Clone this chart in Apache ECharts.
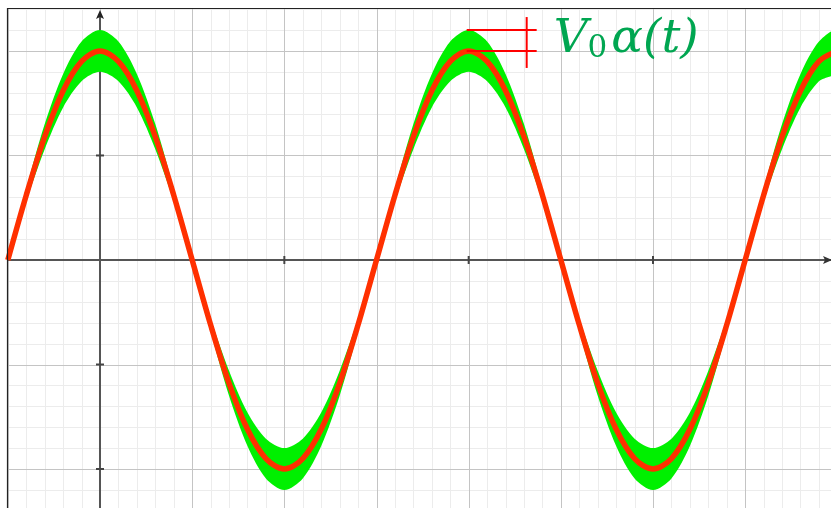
<!DOCTYPE html>
<html>
<head>
<meta charset="utf-8">
<script src="https://cdn.jsdelivr.net/npm/echarts@6/dist/echarts.min.js"></script>
<style>
  html, body { margin: 0; padding: 0; background: #fff; }
  #chart { width: 831px; height: 508px; }
</style>
</head>
<body>
<div id="chart"></div>
<script>
// Sample times (axis units), one every 0.2
const tValues = [-1, -0.8, -0.6, -0.4, -0.2, 0, 0.2, 0.4, 0.6, 0.8, 1, 1.2, 1.4, 1.6, 1.8, 2, 2.2, 2.4, 2.6, 2.8,
  3, 3.2, 3.4, 3.6, 3.8, 4, 4.2, 4.4, 4.6, 4.8, 5, 5.2, 5.4, 5.6, 5.8, 6, 6.2, 6.4, 6.6, 6.8,
  7, 7.2, 7.4, 7.6, 7.8, 8];

// Mean signal (red)
const signal = [0, 0.62, 1.18, 1.62, 1.90, 2, 1.90, 1.62, 1.18, 0.62, 0, -0.62, -1.18, -1.62, -1.90, -2, -1.90, -1.62, -1.18, -0.62,
  0, 0.62, 1.18, 1.62, 1.90, 2, 1.90, 1.62, 1.18, 0.62, 0, -0.62, -1.18, -1.62, -1.90, -2, -1.90, -1.62, -1.18, -0.62,
  0, 0.62, 1.18, 1.62, 1.90, 2];

// Fluctuation band V0·α(t) around the signal (green): upper and lower edges
const bandTop = [0, 0.68, 1.30, 1.78, 2.09, 2.2, 2.09, 1.78, 1.30, 0.68, 0, -0.56, -1.06, -1.46, -1.71, -1.8, -1.71, -1.46, -1.06, -0.56,
  0, 0.68, 1.30, 1.78, 2.09, 2.2, 2.09, 1.78, 1.30, 0.68, 0, -0.56, -1.06, -1.46, -1.71, -1.8, -1.71, -1.46, -1.06, -0.56,
  0, 0.68, 1.30, 1.78, 2.09, 2.2];
const bandBottom = [0, 0.56, 1.06, 1.46, 1.71, 1.8, 1.71, 1.46, 1.06, 0.56, 0, -0.68, -1.30, -1.78, -2.09, -2.2, -2.09, -1.78, -1.30, -0.68,
  0, 0.56, 1.06, 1.46, 1.71, 1.8, 1.71, 1.46, 1.06, 0.56, 0, -0.68, -1.30, -1.78, -2.09, -2.2, -2.09, -1.78, -1.30, -0.68,
  0, 0.56, 1.06, 1.46, 1.71, 1.8];

// Major tick positions marked on the axes
const xTicks = [1, 2, 3, 4, 5, 6, 7];
const yTicks = [-2, -1, 1, 2];

// Visible window of the plane
const xRange = [-1.009, 7.931];
const yRange = [-2.373, 2.411];

// Bracket marking the band half-width at the peak t = 4
const bracket = { t: 4, outer: 2.2, inner: 2 };

const chart = echarts.init(document.getElementById('chart'), null, { renderer: 'canvas' });
const pair = (a) => tValues.map((t, i) => [t, a[i]]);

chart.setOption({
  animation: false,
  backgroundColor: '#fff',
  grid: { left: 7, right: 0, top: 8, bottom: 0, containLabel: false },
  xAxis: {
    type: 'value', min: xRange[0], max: xRange[1],
    axisLine: { show: false }, axisTick: { show: false }, axisLabel: { show: false }, splitLine: { show: false }
  },
  yAxis: {
    type: 'value', min: yRange[0], max: yRange[1],
    axisLine: { show: false }, axisTick: { show: false }, axisLabel: { show: false }, splitLine: { show: false }
  },
  series: [
    {
      // green band: one filled outline, top edge forward, bottom edge back
      type: 'custom', data: [0], z: 3, silent: true, clip: true,
      renderItem: function (params, api) {
        const pts = [];
        tValues.forEach((t, i) => pts.push(api.coord([t, bandTop[i]])));
        for (let i = tValues.length - 1; i >= 0; i--) pts.push(api.coord([tValues[i], bandBottom[i]]));
        return { type: 'polygon', shape: { points: pts, smooth: 0.3 }, style: { fill: '#00f000', stroke: null } };
      }
    },
    {
      type: 'line', data: pair(signal), smooth: 0.33, symbol: 'none',
      lineStyle: { color: '#ff3000', width: 5.5 }, z: 5, silent: true
    }
  ]
});

function px(x, y) { return chart.convertToPixel({ gridIndex: 0 }, [x, y]); }

const g = [];
const W = 831, H = 508, L = 7, T = 8;
const o = px(0, 0);
// grid: minor lines every 0.2, major every 1
for (let k = Math.ceil(xRange[0] * 5); k <= Math.floor(xRange[1] * 5); k++) {
  const x = Math.round(px(k / 5, 0)[0]) + 0.5;
  const major = k % 5 === 0;
  g.push({ type: 'line', shape: { x1: x, y1: T, x2: x, y2: H }, style: { stroke: major ? '#c4c4c4' : '#ececec', lineWidth: 1 }, z: major ? 1 : 0 });
}
for (let k = Math.ceil(yRange[0] * 5); k <= Math.floor(yRange[1] * 5); k++) {
  const y = Math.round(px(0, k / 5)[1]) + 0.5;
  const major = k % 5 === 0;
  g.push({ type: 'line', shape: { x1: L, y1: y, x2: W, y2: y }, style: { stroke: major ? '#c4c4c4' : '#ececec', lineWidth: 1 }, z: major ? 1 : 0 });
}
// axes
g.push({ type: 'line', shape: { x1: L, y1: o[1], x2: W, y2: o[1] }, style: { stroke: '#555', lineWidth: 2 }, z: 2 });
g.push({ type: 'line', shape: { x1: o[0], y1: T + 6, x2: o[0], y2: H }, style: { stroke: '#555', lineWidth: 2 }, z: 2 });
// tick marks crossing the axes
xTicks.forEach(t => {
  const p = px(t, 0);
  g.push({ type: 'line', shape: { x1: p[0], y1: p[1] - 4, x2: p[0], y2: p[1] + 4 }, style: { stroke: '#444', lineWidth: 2 }, z: 2 });
});
yTicks.forEach(v => {
  const p = px(0, v);
  g.push({ type: 'line', shape: { x1: p[0] - 4, y1: p[1], x2: p[0] + 4, y2: p[1] }, style: { stroke: '#444', lineWidth: 2 }, z: 2 });
});
// frame of the plotting area
g.push({ type: 'line', shape: { x1: L, y1: T + 0.5, x2: W, y2: T + 0.5 }, style: { stroke: '#222', lineWidth: 1.2 }, z: 51 });
g.push({ type: 'line', shape: { x1: L + 0.5, y1: T, x2: L + 0.5, y2: H }, style: { stroke: '#222', lineWidth: 1.2 }, z: 51 });
// arrow heads on both axes
g.push({ type: 'polygon', shape: { points: [[o[0], T + 2], [o[0] - 4, T + 11], [o[0], T + 9], [o[0] + 4, T + 11]] }, style: { fill: '#222' }, z: 52 });
g.push({ type: 'polygon', shape: { points: [[W + 1, o[1]], [W - 8, o[1] - 4], [W - 6, o[1]], [W - 8, o[1] + 4]] }, style: { fill: '#333' }, z: 52 });
// bracket for the band half-width
const pOut = px(bracket.t, bracket.outer), pIn = px(bracket.t, bracket.inner);
const bx = pOut[0] + 58;
g.push({ type: 'line', shape: { x1: pOut[0] - 2, y1: pOut[1], x2: pOut[0] + 68, y2: pOut[1] }, style: { stroke: '#ff0000', lineWidth: 2 }, z: 60 });
g.push({ type: 'line', shape: { x1: pIn[0] - 2, y1: pIn[1], x2: pIn[0] + 68, y2: pIn[1] }, style: { stroke: '#ff0000', lineWidth: 2 }, z: 60 });
g.push({ type: 'line', shape: { x1: bx, y1: pOut[1] - 13, x2: bx, y2: pIn[1] + 17 }, style: { stroke: '#ff0000', lineWidth: 2 }, z: 60 });
g.push({
  type: 'text', x: bx + 27, y: pIn[1] + 13, z: 60,
  style: {
    text: '{v|V}{s|0}{a|α(t)}',
    verticalAlign: 'bottom',
    rich: {
      v: { fontFamily: 'DejaVu Serif', fontStyle: 'italic', fontSize: 47, fill: '#00a651' },
      s: { fontFamily: 'DejaVu Serif', fontSize: 31, fill: '#00a651', padding: [18, 4, 0, 0] },
      a: { fontFamily: 'DejaVu Serif', fontStyle: 'italic', fontSize: 47, fill: '#00a651' }
    }
  }
});
chart.setOption({ graphic: g });
</script>
</body>
</html>
